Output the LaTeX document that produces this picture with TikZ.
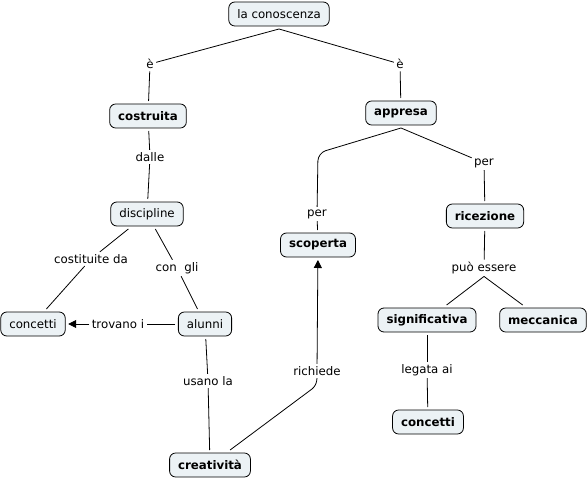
\documentclass[tikz,border=0pt]{standalone}
\usepackage{fontspec}
\setmainfont{DejaVu Sans}
\usetikzlibrary{arrows.meta}
\definecolor{cmapfill}{RGB}{236,242,245}
\tikzset{
  concept/.style={draw,rounded corners=6pt,fill=cmapfill,line width=0.8pt,minimum height=24pt,
    inner xsep=8.5pt,outer sep=3pt,font=\fontsize{11.8}{13}\selectfont},
  kconcept/.style={concept,font=\fontsize{11.8}{13}\selectfont\bfseries},
  phrase/.style={inner sep=1.5pt,outer sep=1pt,font=\fontsize{11.8}{13}\selectfont},
  link/.style={line width=0.8pt},
  linkarrow/.style={link,-{Triangle[length=8pt,width=8pt]}},
}

\begin{document}
\begin{tikzpicture}[x=1pt,y=-1pt]
  \useasboundingbox (0,0) rectangle (588,481);
  % concetti
  \node[concept] (conosc) at (279,14) {la conoscenza};
  \node[kconcept] (costr) at (148,116) {costruita};
  \node[kconcept] (appr) at (401,113) {appresa};
  \node[concept] (disc) at (147,214) {discipline};
  \node[concept] (conc1) at (33,324) {concetti};
  \node[concept] (alun) at (205,324) {alunni};
  \node[kconcept] (creat) at (210,465) {creatività};
  \node[kconcept] (scop) at (318,245) {scoperta};
  \node[kconcept] (ricez) at (485,216) {ricezione};
  \node[kconcept] (signif) at (427,320) {significativa};
  \node[kconcept] (mecc) at (543,320) {meccanica};
  \node[kconcept] (conc2) at (428,422) {concetti};
  % frasi legame
  \node[phrase] (e1) at (150,64) {è};
  \node[phrase] (e2) at (400,64) {è};
  \node[phrase] (dalle) at (150,157) {dalle};
  \node[phrase] (costit) at (91,259) {costituite da};
  \node[phrase] (congli) at (177,268) {con\ \ gli};
  \node[phrase] (trov) at (118,324) {trovano i};
  \node[phrase] (usano) at (208,381) {usano la};
  \node[phrase] (richi) at (317,371) {richiede};
  \node[phrase] (per1) at (317,214) {per};
  \node[phrase] (per2) at (484,163) {per};
  \node[phrase] (puo) at (484,268) {può essere};
  \node[phrase] (legata) at (427,370) {legata ai};
  \coordinate (bendA) at (318,153);
  \coordinate (bendC) at (316,386);
  % collegamenti
  \draw[link] (conosc.south) -- (e1);
  \draw[link] (e1) -- (costr);
  \draw[link] (conosc.south) -- (e2);
  \draw[link] (e2) -- (appr);
  \draw[link] (costr) -- (dalle);
  \draw[link] (dalle) -- (disc);
  \draw[link] (disc) -- (costit);
  \draw[link] (costit) -- (conc1);
  \draw[link] (disc) -- (congli);
  \draw[link] (congli) -- (alun);
  \draw[link] (alun) -- (trov);
  \draw[linkarrow] (trov) -- (conc1);
  \draw[link] (alun) -- (usano);
  \draw[link] (usano) -- (creat);
  \draw[link,rounded corners=5pt] (creat) -- (bendC) -- (richi.south);
  \draw[linkarrow] (richi) -- (scop);
  \draw[link,rounded corners=8pt] (appr.south) -- (bendA) -- (per1);
  \draw[link] (per1) -- (scop);
  \draw[link] (appr.south) -- (per2);
  \draw[link] (per2) -- (ricez);
  \draw[link] (ricez) -- (puo);
  \draw[link] (puo.south) -- (signif);
  \draw[link] (puo.south) -- (mecc);
  \draw[link] (signif) -- (legata);
  \draw[link] (legata) -- (conc2);
\end{tikzpicture}
\end{document}
